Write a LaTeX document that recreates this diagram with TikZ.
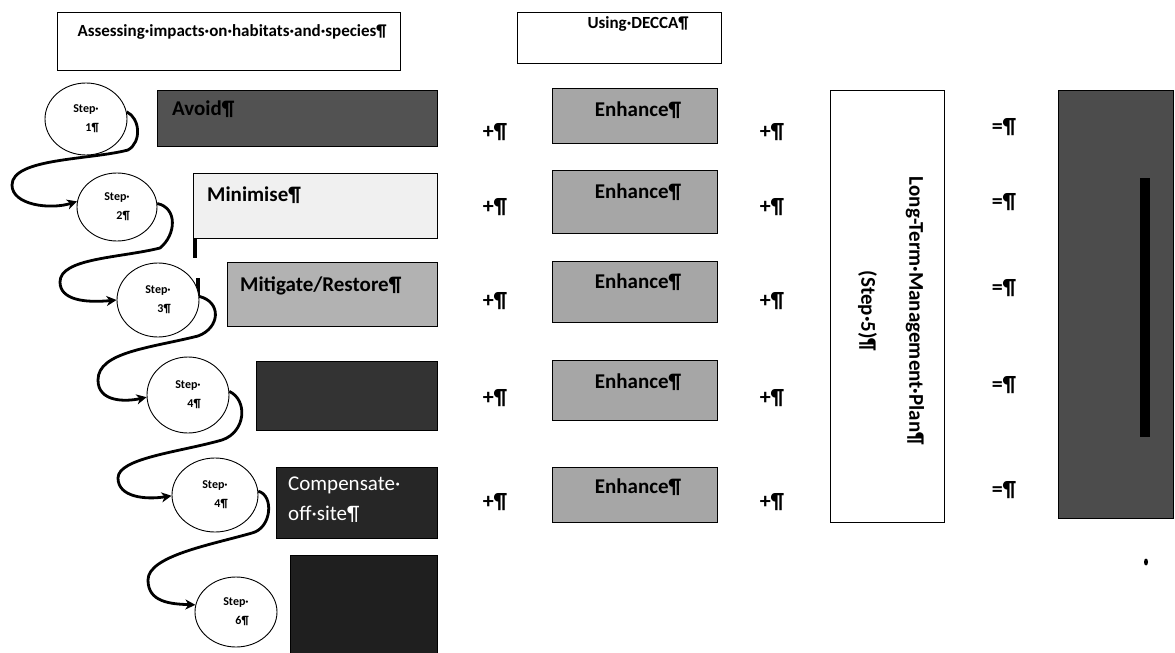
\documentclass[tikz,border=0pt]{standalone}
\usepackage{fontspec}
\setmainfont{Carlito}
\usetikzlibrary{shapes.geometric,arrows.meta}
\begin{document}
\begin{tikzpicture}[x=1pt,y=-1pt,
  box/.style={draw=black,line width=1.2pt,anchor=north west,inner sep=0pt},
  stepc/.style={draw=black,line width=0.9pt,ellipse,fill=white,inner sep=0pt,
     align=right,font=\bfseries\fontsize{12}{19}\selectfont},
  conn/.style={line width=2.8pt,-{Stealth[length=10pt,width=10pt,inset=3pt]}},
  lbl/.style={inner sep=0pt,font=\bfseries\fontsize{21}{24}\selectfont},
  hdr/.style={inner sep=0pt,font=\bfseries\fontsize{17}{20}\selectfont},
  op/.style={inner sep=0pt,font=\bfseries\fontsize{22}{24}\selectfont}
]
\useasboundingbox (0,0) rectangle (1175,653);
% headers
\node[box,minimum width=343pt,minimum height=58pt] (h1) at (57,12) {};
\node[hdr] (h1t) at (232,32) {Assessing·impacts·on·habitats·and·species¶};
\node[box,minimum width=204pt,minimum height=51pt] (h2) at (517,12) {};
\node[hdr] (h2t) at (638,24) {Using·DECCA¶};
% left column boxes
\node[box,fill=black!68,minimum width=280pt,minimum height=56pt] (avoid) at (157,90) {};
\node[lbl,anchor=west] (avoidt) at (172,109) {Avoid¶};
\node[box,fill=black!6,minimum width=244pt,minimum height=65pt] (minim) at (193,173) {};
\node[lbl,anchor=west] (minimt) at (207,195) {Minimise¶};
\node[box,fill=black!30,minimum width=210pt,minimum height=64pt] (mitig) at (227,262) {};
\node[lbl,anchor=west] (mitigt) at (240,286) {Mitigate/Restore¶};
\node[box,fill=black!80,minimum width=181pt,minimum height=69pt] (comp1) at (256,361) {};
\node[box,fill=black!85,minimum width=161pt,minimum height=71pt] (comp2) at (276,467) {};
\node[inner sep=0pt,anchor=north west,align=left,text=white,
      font=\fontsize{21}{30}\selectfont] (comp2t) at (288,477) {Compensate·\\off·site¶};
\node[box,fill=black!88,minimum width=147pt,minimum height=102pt] (comp3) at (290,555) {};
% artefact marks
\draw[line width=4pt] (195,238) -- (195,258);
\draw[line width=4pt] (198,278) -- (198,298);
% step circles
\node[stepc,minimum width=82pt,minimum height=72pt] (s1) at (86,119) {Step·\\1¶};
\node[stepc,minimum width=80pt,minimum height=68pt] (s2) at (117,207) {Step·\\2¶};
\node[stepc,minimum width=82pt,minimum height=74pt] (s3) at (158,300) {Step·\\3¶};
\node[stepc,minimum width=82pt,minimum height=76pt] (s4) at (188,395) {Step·\\4¶};
\node[stepc,minimum width=86pt,minimum height=74pt] (s5) at (215,495) {Step·\\4¶};
\node[stepc,minimum width=82pt,minimum height=70pt] (s6) at (236,612) {Step·\\6¶};
% connectors
\draw[conn] (s1.10) .. controls (140,118) and (142,142) .. (128,150)
   .. controls (90,160) and (12,158) .. (12,185)
   .. controls (12,205) and (50,210) .. (s2.172);
\draw[conn] (s2.5) .. controls (178,208) and (176,235) .. (160,248)
   .. controls (120,258) and (60,258) .. (60,282)
   .. controls (60,300) and (85,303) .. (s3.180);
\draw[conn] (s3.5) .. controls (222,302) and (220,328) .. (198,336)
   .. controls (150,348) and (98,352) .. (98,380)
   .. controls (98,402) and (125,402) .. (s4.183);
\draw[conn] (s4.5) .. controls (248,400) and (246,432) .. (222,440)
   .. controls (180,452) and (118,458) .. (118,478)
   .. controls (118,497) and (145,500) .. (s5.181);
\draw[conn] (s5.5) .. controls (274,495) and (272,528) .. (252,533)
   .. controls (210,545) and (148,556) .. (148,580)
   .. controls (148,602) and (170,604) .. (s6.170);
% enhance column
\foreach \i/\t/\h/\ty in {1/88/55/110,2/170/63/192,3/261/61/282,4/360/60/382,5/467/55/487}{
  \node[box,fill=black!35,minimum width=165pt,minimum height=\h pt] (e\i) at (552,\t) {};
  \node[lbl] (et\i) at (638,\ty) {Enhance¶};
}
% plus signs
\foreach \i/\y in {1/132,2/207,3/301,4/398,5/502}{
  \node[op] (pa\i) at (495,\y) {+¶};
  \node[op] (pb\i) at (772,\y) {+¶};
}
% equals signs
\foreach \i/\y in {1/127,2/202,3/288,4/385,5/490}{
  \node[op] (eq\i) at (1004,\y) {=¶};
}
% long-term management plan
\node[box,minimum width=114pt,minimum height=432pt] (ltmp) at (830,90) {};
\node[inner sep=0pt,rotate=-90,align=center,font=\bfseries\fontsize{21}{48}\selectfont]
   (ltmpt) at (891,311) {Long-Term·Management·Plan¶\\(Step·5)¶};
% result box
\node[box,fill=black!70,minimum width=115pt,minimum height=428pt] (res) at (1058,90) {};
\fill[black] (1140,178) rectangle (1150,437);
\fill[black] (1146,562) ellipse (2 and 3.5);
\end{tikzpicture}
\end{document}
